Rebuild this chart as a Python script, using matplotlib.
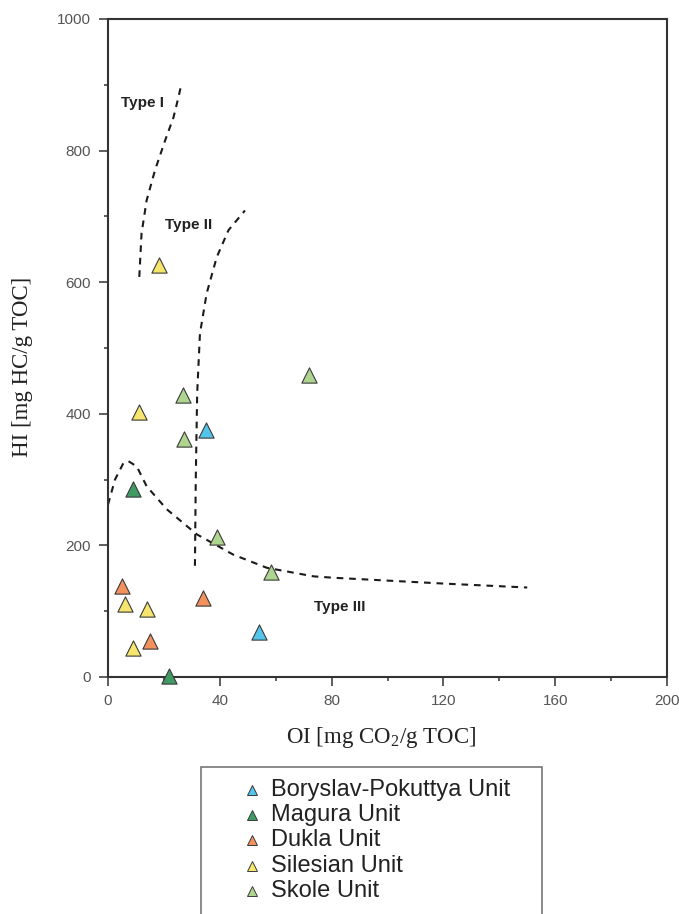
import matplotlib
matplotlib.use("Agg")
import matplotlib.pyplot as plt
from matplotlib.lines import Line2D
from matplotlib.patches import Rectangle
from matplotlib.ticker import MultipleLocator

plt.rcParams["mathtext.fontset"] = "custom"
plt.rcParams["mathtext.rm"] = "Liberation Serif"

# data (OI vs HI)
UNITS = ["Boryslav-Pokuttya Unit", "Magura Unit", "Dukla Unit", "Silesian Unit", "Skole Unit"]
COLORS = ["#54c5ea", "#3f9b63", "#f2915e", "#f6e66e", "#aed58f"]
OI = {
    "Boryslav-Pokuttya Unit": [35.1, 53.9],
    "Magura Unit": [9.1, 21.9],
    "Dukla Unit": [5.0, 15.0, 34.1],
    "Silesian Unit": [18.1, 11.2, 6.0, 14.1, 9.1],
    "Skole Unit": [27.0, 27.2, 38.9, 58.2, 71.8],
}
HI = {
    "Boryslav-Pokuttya Unit": [376, 68],
    "Magura Unit": [285, 2],
    "Dukla Unit": [138, 55, 120],
    "Silesian Unit": [626, 402, 111, 104, 44],
    "Skole Unit": [429, 362, 213, 159, 459],
}

# kerogen type boundaries
TYPE1_OI = [11.2, 12.0, 13.8, 16.8, 20.4, 23.4, 25.2, 26.1]
TYPE1_HI = [608, 674, 724, 770, 815, 850, 881, 898]
TYPE2_OI = [31.1, 31.4, 31.9, 32.9, 35.3, 38.9, 43.1, 49.0]
TYPE2_HI = [169, 300, 431, 522, 583, 638, 679, 709]
TYPE3_OI = [0.0, 2.5, 5.5, 7.3, 10.3, 13.8, 21.0, 31.7, 44.8, 56.8, 73.5, 80, 120, 150]
TYPE3_HI = [262, 300, 325, 328, 320, 290, 255, 217, 186, 166, 153, 151, 142, 136]

W, H = 679, 914
fig = plt.figure(figsize=(W / 100, H / 100), dpi=100)
ax = fig.add_axes([108 / W, 1 - 677 / H, (667 - 108) / W, (677 - 19) / H])

for xs, ys in [(TYPE1_OI, TYPE1_HI), (TYPE2_OI, TYPE2_HI), (TYPE3_OI, TYPE3_HI)]:
    ax.plot(xs, ys, color="#1a1a1a", lw=1.5, ls=(0, (3.2, 2.8)), zorder=2)

for u, c in zip(UNITS, COLORS):
    ax.scatter(OI[u], HI[u], marker="^", s=120, c=c, edgecolors="#3a3a3a", linewidths=0.8, zorder=3, clip_on=False)

tkw = dict(fontsize=11, fontweight="bold", color="#222222", family="Liberation Sans", ha="center", va="center")
ax.text(12.5, 873, "Type I", **tkw)
ax.text(29.0, 687, "Type II", **tkw)
ax.text(82.8, 107, "Type III", **tkw)

ax.set_xlim(0, 200); ax.set_ylim(0, 1000)
ax.xaxis.set_major_locator(MultipleLocator(40)); ax.xaxis.set_minor_locator(MultipleLocator(20))
ax.yaxis.set_major_locator(MultipleLocator(200)); ax.yaxis.set_minor_locator(MultipleLocator(100))
ax.tick_params(which="major", length=6.5, width=1.1, color="#333333", labelsize=11,
               labelcolor="#555555", pad=6)
ax.tick_params(which="minor", length=3.2, width=1.1, color="#333333")
for lab in ax.get_xticklabels() + ax.get_yticklabels():
    lab.set_family("Liberation Sans")
for s in ax.spines.values():
    s.set_color("#333333"); s.set_linewidth(1.5)

lkw = dict(family="Liberation Serif", fontsize=16.5, color="#222222")
fig.text(381 / W, 1 - 738 / H, r"OI [mg CO$_2$/g TOC]", ha="center", va="center", **lkw)
fig.text(23 / W, 1 - 367 / H, "HI [mg HC/g TOC]", rotation=90, ha="center", va="center", **lkw)

# legend box (runs off the bottom edge in the original)
fig.add_artist(Rectangle((201 / W, -0.05), (542 - 201) / W, 0.05 + 1 - 767 / H,
                         transform=fig.transFigure, fill=False, edgecolor="#777777", lw=1.2))
for i, (u, c) in enumerate(zip(UNITS, COLORS)):
    yy = 1 - (790 + 25.2 * i) / H
    fig.add_artist(Line2D([252 / W], [yy], marker="^", ms=7.5, mfc=c, mec="#3a3a3a", mew=0.7,
                          ls="none", transform=fig.transFigure))
    fig.text(271 / W, yy, u, ha="left", va="center", family="Liberation Sans", fontsize=17, color="#222222")

fig.savefig("out.png", dpi=100)
